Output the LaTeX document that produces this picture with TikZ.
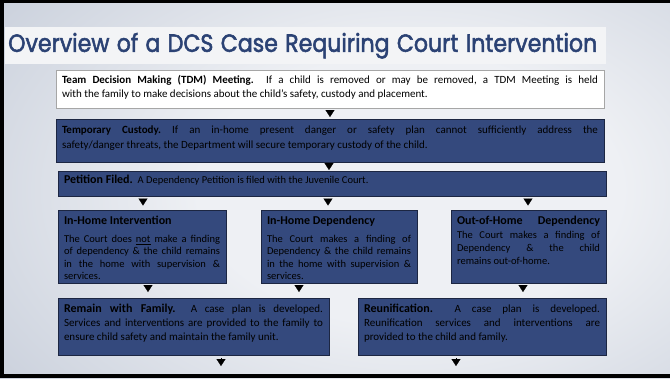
\documentclass[tikz,border=0pt]{standalone}
\usepackage{fontspec}
\setmainfont{Carlito}
\newfontfamily\titlefont[FakeBold=2.2]{Poppins}
\usetikzlibrary{arrows.meta}
\definecolor{slate}{RGB}{163,174,194}
\definecolor{slatedeep}{RGB}{150,162,184}
\definecolor{haze}{RGB}{238,240,244}
\definecolor{bandwhite}{RGB}{243,244,246}
\definecolor{boxblue}{RGB}{52,73,125}
\definecolor{boxline}{RGB}{28,38,66}
\definecolor{titleblue}{RGB}{43,66,116}
\pgfdeclareradialshading{slidebg}{\pgfpoint{0bp}{0bp}}{color(0bp)=(haze); color(12bp)=(haze); color(48bp)=(slate); color(62bp)=(slatedeep); color(70bp)=(slatedeep)}
% top-aligned text block: width, height, top gap, text
\newcommand\cellbox[4]{\parbox[c][#2][t]{#1}{\frenchspacing\vspace*{#3}#4}}

\begin{document}
\begin{tikzpicture}[x=1pt,y=-1pt,
  panel/.style={draw=boxline, line width=0.6pt, fill=boxblue, text=black, anchor=north west,
    inner xsep=6pt, inner ysep=4pt, outer sep=0pt},
  lightpanel/.style={panel, fill=white, draw=gray!70},
  tri/.style={-{Triangle[length=7pt,width=9pt]}, line width=0.2pt, black},
]
\useasboundingbox (0,0) rectangle (670,378);

% slide background
\begin{scope}
  \clip (0,0) rectangle (670,378);
  \shade[shading=slidebg] (-30,-90) rectangle (850,470);
\end{scope}
\fill[black] (0,0) rectangle (670,3);
\fill[black] (0,0) rectangle (4,378);
\fill[black] (0,374) rectangle (670,378);

% title band
\node[fill=bandwhite, anchor=north west, minimum width=601pt, minimum height=37pt,
  inner xsep=3pt, inner ysep=0pt, text=titleblue, align=left, text width=595pt] (title) at (5,27)
  {\raisebox{-1.5pt}{\resizebox{589pt}{19pt}{\titlefont Overview of a DCS Case Requiring Court Intervention}}};

% process boxes
\node[lightpanel] (tdm) at (56,70) {\cellbox{536pt}{30pt}{1.5pt}{\fontsize{11}{14}\selectfont
  \textbf{Team Decision Making (TDM) Meeting.}\ \ If a child is removed or may be removed, a TDM Meeting is held\linebreak
  with the family to make decisions about the child’s safety, custody and placement.}};

\node[panel] (tc) at (56,119) {\cellbox{536pt}{35pt}{2.5pt}{\fontsize{11}{15}\selectfont
  \textbf{Temporary Custody.} If an in-home present danger or safety plan cannot sufficiently address the\linebreak
  safety/danger threats, the Department will secure temporary custody of the child.}};

\node[panel] (pet) at (58,171) {\cellbox{536pt}{17pt}{0.5pt}{\fontsize{10.5}{13}\selectfont
  {\fontsize{12}{13}\selectfont\textbf{Petition Filed.}}\ \ A Dependency Petition is filed with the Juvenile Court.}};

\node[panel] (ihi) at (58,210) {\cellbox{156pt}{65pt}{2pt}{\fontsize{12}{13}\selectfont
  \textbf{In-Home Intervention}\par\vspace{5.5pt}\fontsize{10.5}{12.5}\selectfont
  The Court does \underline{not} make a finding\linebreak of dependency \& the child remains\linebreak
  in the home with supervision \&\linebreak services.}};

\node[panel] (ihd) at (261,210) {\cellbox{144pt}{65pt}{2pt}{\fontsize{12}{13}\selectfont
  \textbf{In-Home Dependency}\par\vspace{5.5pt}\fontsize{10.5}{12.5}\selectfont
  The Court makes a finding of\linebreak Dependency \& the child remains\linebreak
  in the home with supervision \&\linebreak services.}};

\node[panel] (ooh) at (451,210) {\cellbox{143pt}{65pt}{2pt}{\fontsize{12}{13}\selectfont
  \textbf{Out-of-Home}\hfill\textbf{Dependency}\par\vspace{1.5pt}\fontsize{10.5}{13}\selectfont
  The Court makes a finding of\linebreak Dependency \& the child\linebreak remains out-of-home.}};

\node[panel] (rem) at (58,298) {\cellbox{259pt}{49pt}{2pt}{\fontsize{11}{14}\selectfont
  {\fontsize{12}{14}\selectfont\textbf{Remain with Family.}}\ \ A case plan is developed.\linebreak
  Services and interventions are provided to the family to\linebreak
  ensure child safety and maintain the family unit.}};

\node[panel] (reu) at (358,298) {\cellbox{236pt}{49pt}{2pt}{\fontsize{11}{14}\selectfont
  {\fontsize{12}{14}\selectfont\textbf{Reunification.}}\ \ A case plan is developed.\linebreak
  Reunification services and interventions are\linebreak
  provided to the child and family.}};

% arrow columns and loose ends
\coordinate (c1) at (330,0);
\coordinate (c2) at (329,0);
\coordinate (c3) at (143,0);
\coordinate (c4) at (328,0);
\coordinate (c5) at (528,0);
\coordinate (c6) at (148,0);
\coordinate (c7) at (299,0);
\coordinate (c8) at (523,0);
\coordinate (endrem) at (221,366);
\coordinate (endreu) at (456,366);

% connectors
\draw[tri, shorten <=2pt, shorten >=2pt] (tdm.south -| c1) -- (tc.north -| c1);
\draw[tri, shorten <=1pt, shorten >=1pt] (tc.south -| c2) -- (pet.north -| c2);
\draw[tri, shorten <=2.5pt, shorten >=4.5pt] (pet.south -| c3) -- (ihi.north -| c3);
\draw[tri, shorten <=2.5pt, shorten >=4.5pt] (pet.south -| c4) -- (ihd.north -| c4);
\draw[tri, shorten <=2.5pt, shorten >=4.5pt] (pet.south -| c5) -- (ooh.north -| c5);
\draw[tri, shorten <=2pt, shorten >=6pt] (ihi.south -| c6) -- (rem.north -| c6);
\draw[tri, shorten <=2pt, shorten >=6pt] (ihd.south -| c7) -- (rem.north -| c7);
\draw[tri, shorten <=2pt, shorten >=6pt] (ooh.south -| c8) -- (reu.north -| c8);
\draw[tri, shorten <=3pt] (rem.south -| endrem) -- (endrem);
\draw[tri, shorten <=3pt] (reu.south -| endreu) -- (endreu);
\end{tikzpicture}
\end{document}
